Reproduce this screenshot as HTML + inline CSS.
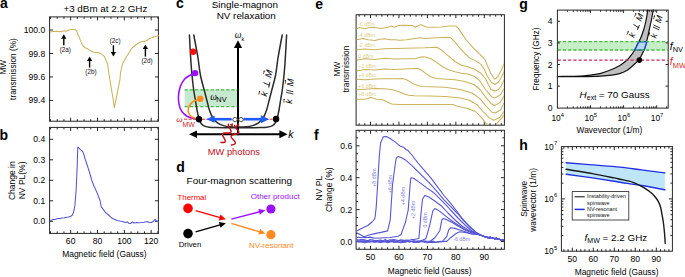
<!DOCTYPE html>
<html><head><meta charset="utf-8"><style>
html,body{margin:0;padding:0;background:#fff;}
body{width:685px;height:277px;overflow:hidden;}
svg{display:block;}
</style></head><body>
<svg width="685" height="277" viewBox="0 0 685 277">
<rect x="0" y="0" width="685" height="277" fill="#fff"/>
<text x="0" y="8" text-anchor="start" style='font-family:"Liberation Sans", sans-serif;font-size:14px;fill:#000;font-weight:bold;'>a</text>
<text x="105.4" y="12.2" text-anchor="middle" style='font-family:"Liberation Sans", sans-serif;font-size:9.85px;fill:#000;'>+3 dBm at 2.2 GHz</text>
<rect x="49.6" y="16.9" width="108.8" height="104.3" fill="none" stroke="#262626" stroke-width="1"/>
<line x1="70.65" y1="121.2" x2="70.65" y2="117.7" stroke="#262626" stroke-width="1" />
<line x1="70.65" y1="16.9" x2="70.65" y2="20.4" stroke="#262626" stroke-width="1" />
<line x1="97.5" y1="121.2" x2="97.5" y2="117.7" stroke="#262626" stroke-width="1" />
<line x1="97.5" y1="16.9" x2="97.5" y2="20.4" stroke="#262626" stroke-width="1" />
<line x1="124.35" y1="121.2" x2="124.35" y2="117.7" stroke="#262626" stroke-width="1" />
<line x1="124.35" y1="16.9" x2="124.35" y2="20.4" stroke="#262626" stroke-width="1" />
<line x1="151.2" y1="121.2" x2="151.2" y2="117.7" stroke="#262626" stroke-width="1" />
<line x1="151.2" y1="16.9" x2="151.2" y2="20.4" stroke="#262626" stroke-width="1" />
<line x1="50.51" y1="121.2" x2="50.51" y2="119.2" stroke="#262626" stroke-width="1" />
<line x1="50.51" y1="16.9" x2="50.51" y2="18.9" stroke="#262626" stroke-width="1" />
<line x1="57.23" y1="121.2" x2="57.23" y2="119.2" stroke="#262626" stroke-width="1" />
<line x1="57.23" y1="16.9" x2="57.23" y2="18.9" stroke="#262626" stroke-width="1" />
<line x1="63.94" y1="121.2" x2="63.94" y2="119.2" stroke="#262626" stroke-width="1" />
<line x1="63.94" y1="16.9" x2="63.94" y2="18.9" stroke="#262626" stroke-width="1" />
<line x1="77.36" y1="121.2" x2="77.36" y2="119.2" stroke="#262626" stroke-width="1" />
<line x1="77.36" y1="16.9" x2="77.36" y2="18.9" stroke="#262626" stroke-width="1" />
<line x1="84.08" y1="121.2" x2="84.08" y2="119.2" stroke="#262626" stroke-width="1" />
<line x1="84.08" y1="16.9" x2="84.08" y2="18.9" stroke="#262626" stroke-width="1" />
<line x1="90.79" y1="121.2" x2="90.79" y2="119.2" stroke="#262626" stroke-width="1" />
<line x1="90.79" y1="16.9" x2="90.79" y2="18.9" stroke="#262626" stroke-width="1" />
<line x1="104.21" y1="121.2" x2="104.21" y2="119.2" stroke="#262626" stroke-width="1" />
<line x1="104.21" y1="16.9" x2="104.21" y2="18.9" stroke="#262626" stroke-width="1" />
<line x1="110.93" y1="121.2" x2="110.93" y2="119.2" stroke="#262626" stroke-width="1" />
<line x1="110.93" y1="16.9" x2="110.93" y2="18.9" stroke="#262626" stroke-width="1" />
<line x1="117.64" y1="121.2" x2="117.64" y2="119.2" stroke="#262626" stroke-width="1" />
<line x1="117.64" y1="16.9" x2="117.64" y2="18.9" stroke="#262626" stroke-width="1" />
<line x1="131.06" y1="121.2" x2="131.06" y2="119.2" stroke="#262626" stroke-width="1" />
<line x1="131.06" y1="16.9" x2="131.06" y2="18.9" stroke="#262626" stroke-width="1" />
<line x1="137.78" y1="121.2" x2="137.78" y2="119.2" stroke="#262626" stroke-width="1" />
<line x1="137.78" y1="16.9" x2="137.78" y2="18.9" stroke="#262626" stroke-width="1" />
<line x1="144.49" y1="121.2" x2="144.49" y2="119.2" stroke="#262626" stroke-width="1" />
<line x1="144.49" y1="16.9" x2="144.49" y2="18.9" stroke="#262626" stroke-width="1" />
<line x1="157.91" y1="121.2" x2="157.91" y2="119.2" stroke="#262626" stroke-width="1" />
<line x1="157.91" y1="16.9" x2="157.91" y2="18.9" stroke="#262626" stroke-width="1" />
<line x1="49.6" y1="30" x2="53.1" y2="30" stroke="#262626" stroke-width="1" />
<line x1="158.4" y1="30" x2="154.9" y2="30" stroke="#262626" stroke-width="1" />
<line x1="49.6" y1="53.47" x2="53.1" y2="53.47" stroke="#262626" stroke-width="1" />
<line x1="158.4" y1="53.47" x2="154.9" y2="53.47" stroke="#262626" stroke-width="1" />
<line x1="49.6" y1="76.94" x2="53.1" y2="76.94" stroke="#262626" stroke-width="1" />
<line x1="158.4" y1="76.94" x2="154.9" y2="76.94" stroke="#262626" stroke-width="1" />
<line x1="49.6" y1="100.41" x2="53.1" y2="100.41" stroke="#262626" stroke-width="1" />
<line x1="158.4" y1="100.41" x2="154.9" y2="100.41" stroke="#262626" stroke-width="1" />
<text x="45.2" y="33.05" text-anchor="end" style='font-family:"Liberation Sans", sans-serif;font-size:8.6px;fill:#000;'>100.0</text>
<text x="45.2" y="56.52" text-anchor="end" style='font-family:"Liberation Sans", sans-serif;font-size:8.6px;fill:#000;'>99.8</text>
<text x="45.2" y="79.99" text-anchor="end" style='font-family:"Liberation Sans", sans-serif;font-size:8.6px;fill:#000;'>99.6</text>
<text x="45.2" y="103.46" text-anchor="end" style='font-family:"Liberation Sans", sans-serif;font-size:8.6px;fill:#000;'>99.4</text>
<text transform="translate(5.6,67.2) rotate(-90)" x="0" y="0" text-anchor="middle" style='font-family:"Liberation Sans", sans-serif;font-size:8.3px;fill:#000;'>MW</text>
<text transform="translate(16.2,69) rotate(-90)" x="0" y="0" text-anchor="middle" style='font-family:"Liberation Sans", sans-serif;font-size:8.3px;fill:#000;'>transmission (%)</text>
<polyline points="50.2,31.9 53,31.5 56.7,31.3 59.5,31.8 62.1,31.3 64.9,30.8 66.5,31.2 68.6,30 71.8,29.5 73.5,29.6 75.1,29.3 76.6,30.8 78.3,35.2 80.5,40.6 82.7,45.6 84.8,47.7 87,48.5 89.2,49.9 91.5,51.3 93.5,52 95.5,52.6 97.8,52.5 100,52.9 102,54.6 104.3,56.3 105.9,60 107.6,64 108.9,73.9 110.9,85.9 112.9,97.8 114.3,107.8 115.9,99.8 117.9,89.9 119.9,79.9 120.5,72.9 121.7,67 123,63 124.9,59.4 126.5,56.5 128.2,54 130.3,50.5 132.5,47.5 134.5,45.8 136.8,44.2 139,42.6 141.2,42.1 143,41.2 144.4,41.4 146.6,40.6 148.2,39.8 149.8,38.4 152,37.8 154.1,36.7 156,36.6 157.4,36 158.8,35.8" fill="none" stroke="#ccb35c" stroke-width="1.05" stroke-linejoin="round" stroke-linecap="round" />
<line x1="63.8" y1="45.2" x2="63.8" y2="38.3" stroke="#000" stroke-width="1.4" />
<polygon points="63.8,34.3 61.2,38.8 66.4,38.8" fill="#000"/>
<text x="65.3" y="51.5" text-anchor="middle" style='font-family:"Liberation Sans", sans-serif;font-size:6.3px;fill:#111;'>(2a)</text>
<line x1="89.6" y1="67.6" x2="89.6" y2="60.4" stroke="#000" stroke-width="1.4" />
<polygon points="89.6,56.4 87,60.9 92.2,60.9" fill="#000"/>
<text x="90.9" y="73.8" text-anchor="middle" style='font-family:"Liberation Sans", sans-serif;font-size:6.3px;fill:#111;'>(2b)</text>
<line x1="113.4" y1="45.3" x2="113.4" y2="52.6" stroke="#000" stroke-width="1.4" />
<polygon points="113.4,56.6 110.8,52.1 116,52.1" fill="#000"/>
<text x="115.2" y="42.6" text-anchor="middle" style='font-family:"Liberation Sans", sans-serif;font-size:6.3px;fill:#111;'>(2c)</text>
<line x1="145.4" y1="56.6" x2="145.4" y2="48.4" stroke="#000" stroke-width="1.4" />
<polygon points="145.4,44.4 142.8,48.9 148,48.9" fill="#000"/>
<text x="147" y="62.9" text-anchor="middle" style='font-family:"Liberation Sans", sans-serif;font-size:6.3px;fill:#111;'>(2d)</text>
<text x="-0.5" y="139.8" text-anchor="start" style='font-family:"Liberation Sans", sans-serif;font-size:14px;fill:#000;font-weight:bold;'>b</text>
<rect x="49.6" y="127.4" width="108.8" height="106" fill="none" stroke="#262626" stroke-width="1"/>
<line x1="70.65" y1="233.4" x2="70.65" y2="229.9" stroke="#262626" stroke-width="1" />
<line x1="70.65" y1="127.4" x2="70.65" y2="130.9" stroke="#262626" stroke-width="1" />
<line x1="97.5" y1="233.4" x2="97.5" y2="229.9" stroke="#262626" stroke-width="1" />
<line x1="97.5" y1="127.4" x2="97.5" y2="130.9" stroke="#262626" stroke-width="1" />
<line x1="124.35" y1="233.4" x2="124.35" y2="229.9" stroke="#262626" stroke-width="1" />
<line x1="124.35" y1="127.4" x2="124.35" y2="130.9" stroke="#262626" stroke-width="1" />
<line x1="151.2" y1="233.4" x2="151.2" y2="229.9" stroke="#262626" stroke-width="1" />
<line x1="151.2" y1="127.4" x2="151.2" y2="130.9" stroke="#262626" stroke-width="1" />
<line x1="50.51" y1="233.4" x2="50.51" y2="231.4" stroke="#262626" stroke-width="1" />
<line x1="50.51" y1="127.4" x2="50.51" y2="129.4" stroke="#262626" stroke-width="1" />
<line x1="57.23" y1="233.4" x2="57.23" y2="231.4" stroke="#262626" stroke-width="1" />
<line x1="57.23" y1="127.4" x2="57.23" y2="129.4" stroke="#262626" stroke-width="1" />
<line x1="63.94" y1="233.4" x2="63.94" y2="231.4" stroke="#262626" stroke-width="1" />
<line x1="63.94" y1="127.4" x2="63.94" y2="129.4" stroke="#262626" stroke-width="1" />
<line x1="77.36" y1="233.4" x2="77.36" y2="231.4" stroke="#262626" stroke-width="1" />
<line x1="77.36" y1="127.4" x2="77.36" y2="129.4" stroke="#262626" stroke-width="1" />
<line x1="84.08" y1="233.4" x2="84.08" y2="231.4" stroke="#262626" stroke-width="1" />
<line x1="84.08" y1="127.4" x2="84.08" y2="129.4" stroke="#262626" stroke-width="1" />
<line x1="90.79" y1="233.4" x2="90.79" y2="231.4" stroke="#262626" stroke-width="1" />
<line x1="90.79" y1="127.4" x2="90.79" y2="129.4" stroke="#262626" stroke-width="1" />
<line x1="104.21" y1="233.4" x2="104.21" y2="231.4" stroke="#262626" stroke-width="1" />
<line x1="104.21" y1="127.4" x2="104.21" y2="129.4" stroke="#262626" stroke-width="1" />
<line x1="110.93" y1="233.4" x2="110.93" y2="231.4" stroke="#262626" stroke-width="1" />
<line x1="110.93" y1="127.4" x2="110.93" y2="129.4" stroke="#262626" stroke-width="1" />
<line x1="117.64" y1="233.4" x2="117.64" y2="231.4" stroke="#262626" stroke-width="1" />
<line x1="117.64" y1="127.4" x2="117.64" y2="129.4" stroke="#262626" stroke-width="1" />
<line x1="131.06" y1="233.4" x2="131.06" y2="231.4" stroke="#262626" stroke-width="1" />
<line x1="131.06" y1="127.4" x2="131.06" y2="129.4" stroke="#262626" stroke-width="1" />
<line x1="137.78" y1="233.4" x2="137.78" y2="231.4" stroke="#262626" stroke-width="1" />
<line x1="137.78" y1="127.4" x2="137.78" y2="129.4" stroke="#262626" stroke-width="1" />
<line x1="144.49" y1="233.4" x2="144.49" y2="231.4" stroke="#262626" stroke-width="1" />
<line x1="144.49" y1="127.4" x2="144.49" y2="129.4" stroke="#262626" stroke-width="1" />
<line x1="157.91" y1="233.4" x2="157.91" y2="231.4" stroke="#262626" stroke-width="1" />
<line x1="157.91" y1="127.4" x2="157.91" y2="129.4" stroke="#262626" stroke-width="1" />
<line x1="49.6" y1="221.3" x2="53.1" y2="221.3" stroke="#262626" stroke-width="1" />
<line x1="158.4" y1="221.3" x2="154.9" y2="221.3" stroke="#262626" stroke-width="1" />
<line x1="49.6" y1="200.8" x2="53.1" y2="200.8" stroke="#262626" stroke-width="1" />
<line x1="158.4" y1="200.8" x2="154.9" y2="200.8" stroke="#262626" stroke-width="1" />
<line x1="49.6" y1="180.3" x2="53.1" y2="180.3" stroke="#262626" stroke-width="1" />
<line x1="158.4" y1="180.3" x2="154.9" y2="180.3" stroke="#262626" stroke-width="1" />
<line x1="49.6" y1="159.8" x2="53.1" y2="159.8" stroke="#262626" stroke-width="1" />
<line x1="158.4" y1="159.8" x2="154.9" y2="159.8" stroke="#262626" stroke-width="1" />
<line x1="49.6" y1="139.3" x2="53.1" y2="139.3" stroke="#262626" stroke-width="1" />
<line x1="158.4" y1="139.3" x2="154.9" y2="139.3" stroke="#262626" stroke-width="1" />
<text x="45.2" y="224.35" text-anchor="end" style='font-family:"Liberation Sans", sans-serif;font-size:8.6px;fill:#000;'>0.0</text>
<text x="45.2" y="203.85" text-anchor="end" style='font-family:"Liberation Sans", sans-serif;font-size:8.6px;fill:#000;'>0.1</text>
<text x="45.2" y="183.35" text-anchor="end" style='font-family:"Liberation Sans", sans-serif;font-size:8.6px;fill:#000;'>0.2</text>
<text x="45.2" y="162.85" text-anchor="end" style='font-family:"Liberation Sans", sans-serif;font-size:8.6px;fill:#000;'>0.3</text>
<text x="45.2" y="142.35" text-anchor="end" style='font-family:"Liberation Sans", sans-serif;font-size:8.6px;fill:#000;'>0.4</text>
<text x="70.65" y="244.2" text-anchor="middle" style='font-family:"Liberation Sans", sans-serif;font-size:8.6px;fill:#000;'>60</text>
<text x="97.5" y="244.2" text-anchor="middle" style='font-family:"Liberation Sans", sans-serif;font-size:8.6px;fill:#000;'>80</text>
<text x="124.35" y="244.2" text-anchor="middle" style='font-family:"Liberation Sans", sans-serif;font-size:8.6px;fill:#000;'>100</text>
<text x="151.2" y="244.2" text-anchor="middle" style='font-family:"Liberation Sans", sans-serif;font-size:8.6px;fill:#000;'>120</text>
<text x="104.4" y="256.8" text-anchor="middle" style='font-family:"Liberation Sans", sans-serif;font-size:8.45px;fill:#000;'>Magnetic field (Gauss)</text>
<text transform="translate(14.6,180.7) rotate(-90)" x="0" y="0" text-anchor="middle" style='font-family:"Liberation Sans", sans-serif;font-size:8.5px;fill:#000;'>Change in</text>
<text transform="translate(24.6,180.4) rotate(-90)" x="0" y="0" text-anchor="middle" style='font-family:"Liberation Sans", sans-serif;font-size:8.5px;fill:#000;'>NV PL(%)</text>
<polyline points="50.6,220.4 53,219.6 55,219.4 57.7,218.5 60,218.6 62,217.9 64.2,217.8 66.5,217.3 68.5,216.9 70.7,216.2 72.2,215.2 73.3,213 74.2,209.5 74.9,204.9 75.6,197 76.2,188.7 76.8,175 77.2,166 77.5,155 77.8,147.1 79,148 80.4,149.7 82.7,151.4 84,155 85.3,159.5 87,164.5 88.5,169.2 90,174 91.8,180.5 94,186 96.7,191.9 98.5,196.5 100,200.5 101.4,207.2 103.6,209.9 105.5,212.5 107.2,213.9 109,215.5 110.8,217.1 112.5,218.5 114.5,219.3 117,220.5 119.9,221.1 122.5,221.5 125.3,222.5 127.5,222 129,223.4 130.7,223.4 132.5,222 134,223 136.2,222.5 139,222.7 141.6,222.5 144,222.2 147,221.6 149,222.4 151.5,222.5 153.5,221.2 155.1,219.3 156.5,221 158.5,221.6" fill="none" stroke="#5656d4" stroke-width="1.05" stroke-linejoin="round" stroke-linecap="round" />
<text x="176" y="8" text-anchor="start" style='font-family:"Liberation Sans", sans-serif;font-size:14px;fill:#000;font-weight:bold;'>c</text>
<text x="211.8" y="7.9" text-anchor="start" style='font-family:"Liberation Sans", sans-serif;font-size:9.85px;fill:#000;'>Single-magnon</text>
<text x="216.7" y="19.3" text-anchor="start" style='font-family:"Liberation Sans", sans-serif;font-size:9.85px;fill:#000;'>NV relaxation</text>
<rect x="184.6" y="89.8" width="52.6" height="16.9" fill="#c6ead0"/>
<line x1="184.6" y1="89.8" x2="237.2" y2="89.8" stroke="#3dbf3d" stroke-width="1.3" stroke-dasharray="3.2,2"/>
<line x1="184.6" y1="106.7" x2="237.2" y2="106.7" stroke="#3dbf3d" stroke-width="1.3" stroke-dasharray="3.2,2"/>
<path d="M189.4,35 C189.63,39.17 190.37,53.33 190.8,60 C191.23,66.67 191.52,70 192,75 C192.48,80 193.13,85.83 193.7,90 C194.27,94.17 194.85,96.67 195.4,100 C195.95,103.33 196.4,106.83 197,110 C197.6,113.17 198.33,116.78 199,119 C199.67,121.22 200.17,122.15 201,123.3 C201.83,124.45 202.67,125.25 204,125.9 C205.33,126.55 207,126.92 209,127.2 C211,127.48 213.17,127.52 216,127.6 C218.83,127.68 222.33,127.68 226,127.7 C229.67,127.72 234,127.7 238,127.7 C242,127.7 246.33,127.72 250,127.7 C253.67,127.68 257.17,127.68 260,127.6 C262.83,127.52 265,127.48 267,127.2 C269,126.92 270.67,126.55 272,125.9 C273.33,125.25 274.17,124.45 275,123.3 C275.83,122.15 276.33,121.22 277,119 C277.67,116.78 278.4,113.17 279,110 C279.6,106.83 280.05,103.33 280.6,100 C281.15,96.67 281.73,94.17 282.3,90 C282.87,85.83 283.52,80 284,75 C284.48,70 284.77,66.67 285.2,60 C285.63,53.33 286.37,39.17 286.6,35" fill="none" stroke="#2b2b2b" stroke-width="1.5" stroke-linejoin="round" stroke-linecap="round" />
<path d="M193.8,35 C194.5,38.83 196.9,51.33 198,58 C199.1,64.67 199.28,69.33 200.4,75 C201.52,80.67 203.55,87.5 204.7,92 C205.85,96.5 206.52,99 207.3,102 C208.08,105 208.52,107.42 209.4,110 C210.28,112.58 211.25,115.37 212.6,117.5 C213.95,119.63 215.68,121.45 217.5,122.8 C219.32,124.15 221.42,124.93 223.5,125.6 C225.58,126.27 227.58,126.55 230,126.8 C232.42,127.05 235.33,127.1 238,127.1 C240.67,127.1 243.58,127.05 246,126.8 C248.42,126.55 250.42,126.27 252.5,125.6 C254.58,124.93 256.68,124.15 258.5,122.8 C260.32,121.45 262.05,119.63 263.4,117.5 C264.75,115.37 265.72,112.58 266.6,110 C267.48,107.42 267.92,105 268.7,102 C269.48,99 270.15,96.5 271.3,92 C272.45,87.5 274.48,80.67 275.6,75 C276.72,69.33 276.9,64.67 278,58 C279.1,51.33 281.5,38.83 282.2,35" fill="none" stroke="#2b2b2b" stroke-width="1.5" stroke-linejoin="round" stroke-linecap="round" />
<path d="M195.1,73.1 C194.25,73.47 191.77,74.28 190,75.3 C188.23,76.32 186.12,77.33 184.5,79.2 C182.88,81.07 181.32,83.45 180.3,86.5 C179.28,89.55 178.43,93.87 178.4,97.5 C178.37,101.13 179.08,105.48 180.1,108.3 C181.12,111.12 182.77,112.82 184.5,114.4 C186.23,115.98 188.42,117.03 190.5,117.8 C192.58,118.57 195.92,118.8 197,119" fill="none" stroke="#9b10ff" stroke-width="1.6" stroke-linejoin="round" stroke-linecap="round" />
<path d="M200.3,98.8 C199.2,99.18 195.52,99.97 193.7,101.1 C191.88,102.23 190.32,103.87 189.4,105.6 C188.48,107.33 187.93,109.72 188.2,111.5 C188.47,113.28 189.7,115.12 191,116.3 C192.3,117.48 195.17,118.22 196,118.6" fill="none" stroke="#ff8a1e" stroke-width="1.6" stroke-linejoin="round" stroke-linecap="round" />
<line x1="184" y1="119.2" x2="276" y2="119.2" stroke="#d42020" stroke-width="0.9" stroke-dasharray="3.2,1.3"/>
<line x1="231.5" y1="119.2" x2="213.5" y2="119.2" stroke="#1f5bff" stroke-width="2.6" />
<polygon points="206.3,119.2 214.6,115.6 214.6,122.8" fill="#1f5bff"/>
<line x1="243.6" y1="119.2" x2="261.5" y2="119.2" stroke="#1f5bff" stroke-width="2.6" />
<polygon points="269.2,119.2 260.8,115.2 260.8,123.2" fill="#1f5bff"/>
<circle cx="193.1" cy="51.7" r="3.2" fill="#ff0d0d" stroke="none" stroke-width="0"/>
<circle cx="195.1" cy="73.1" r="3.2" fill="#9b10ff" stroke="none" stroke-width="0"/>
<circle cx="200.3" cy="98.7" r="3.2" fill="#ff8a1e" stroke="none" stroke-width="0"/>
<circle cx="199" cy="119.2" r="3.2" fill="#000" stroke="none" stroke-width="0"/>
<circle cx="276.1" cy="119" r="3.2" fill="#000" stroke="none" stroke-width="0"/>
<line x1="238" y1="135.2" x2="238" y2="46" stroke="#000" stroke-width="2" />
<polygon points="238,40.2 233.9,48 242.1,48" fill="#000"/>
<line x1="195.5" y1="134.2" x2="280" y2="134.2" stroke="#000" stroke-width="2" />
<polygon points="189.0,134.2 197.0,130.4 197.0,138.0" fill="#000"/>
<polygon points="287.6,134.2 279.4,130.2 279.4,138.2" fill="#000"/>
<circle cx="235" cy="119.6" r="2.2" fill="#fff" stroke="#444" stroke-width="0.9"/>
<circle cx="241" cy="119.6" r="2.2" fill="#fff" stroke="#444" stroke-width="0.9"/>
<polyline points="221,142.5 221.65,142.52 222.29,142.52 222.89,142.51 223.45,142.47 223.95,142.39 224.38,142.27 224.73,142.1 224.99,141.88 225.17,141.61 225.26,141.28 225.26,140.9 225.18,140.47 225.03,139.99 224.82,139.48 224.56,138.94 224.27,138.38 223.96,137.81 223.65,137.24 223.35,136.67 223.08,136.13 222.85,135.61 222.68,135.12 222.59,134.68 222.56,134.28 222.63,133.94 222.78,133.65 223.02,133.41 223.34,133.23 223.75,133.1 224.23,133.01 224.77,132.96 225.36,132.94 225.99,132.94 226.64,132.95 227.3,132.97 227.94,132.98 228.55,132.97 229.12,132.94 229.64,132.87 230.09,132.77 230.46,132.61 230.75,132.41 230.95,132.15 231.07,131.83 231.09,131.47 231.04,131.05 230.91,130.59 230.72,130.09 230.47,129.56 230.18,129 229.88,128.43 229.56,127.86 229.26,127.29 228.98,126.74 228.74,126.21 228.55,125.71 228.43,125.26 228.39,124.85 228.43,124.49 228.55,124.18" fill="none" stroke="#c80c14" stroke-width="1.4" stroke-linejoin="round" stroke-linecap="round" />
<polygon points="232.87,123.07 232.82,126.79 229.58,124.81" fill="#c80c14"/>
<polyline points="231.5,145 232.14,144.86 232.76,144.72 233.34,144.57 233.88,144.4 234.35,144.2 234.74,143.99 235.04,143.74 235.24,143.46 235.35,143.15 235.36,142.81 235.28,142.44 235.1,142.04 234.85,141.61 234.53,141.16 234.15,140.69 233.74,140.21 233.31,139.73 232.87,139.24 232.45,138.76 232.06,138.29 231.72,137.83 231.45,137.4 231.25,136.99 231.14,136.61 231.12,136.26 231.2,135.94 231.38,135.65 231.65,135.4 232.02,135.17 232.47,134.97 232.98,134.79 233.55,134.64 234.17,134.49 234.8,134.35 235.44,134.22 236.07,134.08 236.67,133.93 237.22,133.76 237.71,133.58 238.12,133.37 238.45,133.13 238.68,132.86 238.82,132.56 238.86,132.23 238.8,131.86 238.65,131.47 238.42,131.05 238.11,130.61 237.75,130.14 237.35,129.67 236.92,129.18 236.48,128.69 236.05,128.21 235.65,127.73 235.3,127.27 235,126.83 234.78,126.42 234.65,126.03 234.6,125.67 234.65,125.34" fill="none" stroke="#c80c14" stroke-width="1.4" stroke-linejoin="round" stroke-linecap="round" />
<polygon points="238.59,123.26 239.41,126.89 235.79,125.71" fill="#c80c14"/>
<text x="207.8" y="154.9" text-anchor="start" style='font-family:"Liberation Sans", sans-serif;font-size:9.3px;fill:#c4101c;'>MW photons</text>
<text x="238.2" y="38" text-anchor="middle" style='font-family:"Liberation Serif", serif;font-size:9.5px;fill:#000;font-style:italic;'>&#969;</text>
<text x="241.4" y="40.8" text-anchor="start" style='font-family:"Liberation Sans", sans-serif;font-size:5.5px;fill:#000;'>k</text>
<text x="210.2" y="100.2" text-anchor="start" style='font-family:"Liberation Serif", serif;font-size:9.5px;fill:#000;font-style:italic;'>&#969;</text>
<text x="216.3" y="102.3" text-anchor="start" style='font-family:"Liberation Sans", sans-serif;font-size:7.4px;fill:#000;'>NV</text>
<text x="176.2" y="121.6" text-anchor="start" style='font-family:"Liberation Serif", serif;font-size:9px;fill:#c81a28;font-style:italic;'>&#969;</text>
<text x="182.6" y="127.2" text-anchor="start" style='font-family:"Liberation Sans", sans-serif;font-size:6.9px;fill:#c81a28;'>MW</text>
<text x="288.2" y="138.3" text-anchor="start" style='font-family:"Liberation Sans", sans-serif;font-size:10.5px;fill:#000;font-style:italic;'>k</text>
<g transform="translate(266.3,83.9) rotate(-77)">
<text x="-10.5" y="3.31" text-anchor="middle" style='font-family:"Liberation Sans", sans-serif;font-size:9.2px;font-style:italic;fill:#000;'>k</text>
<text x="10.5" y="3.31" text-anchor="middle" style='font-family:"Liberation Sans", sans-serif;font-size:9.2px;font-style:italic;fill:#000;'>M</text>
<path d="M0.63,-2.94 L-0.63,3.31 M-3.06,3.11 L2.46,3.11" stroke="#000" stroke-width="0.8" fill="none"/>
<path d="M-12.1,-4.94 L-8.9,-4.94" stroke="#000" stroke-width="0.6" fill="none"/>
<polygon points="-8.1,-4.94 -9.4,-5.84 -9.4,-4.04" fill="#000"/>
<path d="M8.9,-4.94 L12.1,-4.94" stroke="#000" stroke-width="0.6" fill="none"/>
<polygon points="12.9,-4.94 11.6,-5.84 11.6,-4.04" fill="#000"/>
</g>
<g transform="translate(289.6,92) rotate(-86)">
<text x="-9.5" y="3.31" text-anchor="middle" style='font-family:"Liberation Sans", sans-serif;font-size:9.2px;font-style:italic;fill:#000;'>k</text>
<text x="9.5" y="3.31" text-anchor="middle" style='font-family:"Liberation Sans", sans-serif;font-size:9.2px;font-style:italic;fill:#000;'>M</text>
<path d="M-0.48,-3.44 L-1.73,3.81" stroke="#000" stroke-width="0.75" fill="none"/>
<path d="M1.73,-3.44 L0.48,3.81" stroke="#000" stroke-width="0.75" fill="none"/>
<path d="M-11.1,-4.94 L-7.9,-4.94" stroke="#000" stroke-width="0.6" fill="none"/>
<polygon points="-7.1,-4.94 -8.4,-5.84 -8.4,-4.04" fill="#000"/>
<path d="M7.9,-4.94 L11.1,-4.94" stroke="#000" stroke-width="0.6" fill="none"/>
<polygon points="11.9,-4.94 10.6,-5.84 10.6,-4.04" fill="#000"/>
</g>
<text x="176.3" y="172.1" text-anchor="start" style='font-family:"Liberation Sans", sans-serif;font-size:14px;fill:#000;font-weight:bold;'>d</text>
<text x="186.6" y="184.2" text-anchor="start" style='font-family:"Liberation Sans", sans-serif;font-size:9.95px;fill:#000;'>Four-magnon scattering</text>
<text x="177.6" y="199.6" text-anchor="start" style='font-family:"Liberation Sans", sans-serif;font-size:7.8px;fill:#ff0000;'>Thermal</text>
<text x="250.7" y="199.4" text-anchor="start" style='font-family:"Liberation Sans", sans-serif;font-size:8px;fill:#9b10ff;'>Other product</text>
<text x="178.7" y="246.7" text-anchor="start" style='font-family:"Liberation Sans", sans-serif;font-size:7.8px;fill:#000;'>Driven</text>
<text x="249" y="247.6" text-anchor="start" style='font-family:"Liberation Sans", sans-serif;font-size:8px;fill:#ff8a1e;'>NV-resonant</text>
<circle cx="188" cy="208.4" r="4.8" fill="#ff0000" stroke="none" stroke-width="0"/>
<circle cx="188" cy="233.6" r="4.8" fill="#000" stroke="none" stroke-width="0"/>
<circle cx="270.9" cy="209" r="4.6" fill="#9b10ff" stroke="none" stroke-width="0"/>
<circle cx="270.9" cy="234.7" r="4.6" fill="#ff8a1e" stroke="none" stroke-width="0"/>
<line x1="195.6" y1="210.6" x2="220.13" y2="217.64" stroke="#ff0000" stroke-width="1.4" />
<polygon points="225.9,219.3 218.82,220.39 220.48,214.62" fill="#ff0000"/>
<line x1="195.6" y1="231.8" x2="220.13" y2="224.84" stroke="#000" stroke-width="1.4" />
<polygon points="225.9,223.2 220.47,227.86 218.83,222.09" fill="#000"/>
<line x1="231.3" y1="219.1" x2="259.59" y2="211.72" stroke="#9b10ff" stroke-width="1.4" />
<polygon points="265.4,210.2 259.87,214.74 258.35,208.94" fill="#9b10ff"/>
<line x1="231.3" y1="223.4" x2="259.65" y2="231.8" stroke="#ff8a1e" stroke-width="1.4" />
<polygon points="265.4,233.5 258.32,234.53 260.02,228.78" fill="#ff8a1e"/>
<text x="315.2" y="9.4" text-anchor="start" style='font-family:"Liberation Sans", sans-serif;font-size:14px;fill:#000;font-weight:bold;'>e</text>
<rect x="356.1" y="14.7" width="148.3" height="110.5" fill="none" stroke="#262626" stroke-width="1"/>
<line x1="370.5" y1="125.2" x2="370.5" y2="121.7" stroke="#262626" stroke-width="1" />
<line x1="370.5" y1="14.7" x2="370.5" y2="18.2" stroke="#262626" stroke-width="1" />
<line x1="398.95" y1="125.2" x2="398.95" y2="121.7" stroke="#262626" stroke-width="1" />
<line x1="398.95" y1="14.7" x2="398.95" y2="18.2" stroke="#262626" stroke-width="1" />
<line x1="427.4" y1="125.2" x2="427.4" y2="121.7" stroke="#262626" stroke-width="1" />
<line x1="427.4" y1="14.7" x2="427.4" y2="18.2" stroke="#262626" stroke-width="1" />
<line x1="455.85" y1="125.2" x2="455.85" y2="121.7" stroke="#262626" stroke-width="1" />
<line x1="455.85" y1="14.7" x2="455.85" y2="18.2" stroke="#262626" stroke-width="1" />
<line x1="484.3" y1="125.2" x2="484.3" y2="121.7" stroke="#262626" stroke-width="1" />
<line x1="484.3" y1="14.7" x2="484.3" y2="18.2" stroke="#262626" stroke-width="1" />
<line x1="359.12" y1="125.2" x2="359.12" y2="123.2" stroke="#262626" stroke-width="1" />
<line x1="359.12" y1="14.7" x2="359.12" y2="16.7" stroke="#262626" stroke-width="1" />
<line x1="364.81" y1="125.2" x2="364.81" y2="123.2" stroke="#262626" stroke-width="1" />
<line x1="364.81" y1="14.7" x2="364.81" y2="16.7" stroke="#262626" stroke-width="1" />
<line x1="376.19" y1="125.2" x2="376.19" y2="123.2" stroke="#262626" stroke-width="1" />
<line x1="376.19" y1="14.7" x2="376.19" y2="16.7" stroke="#262626" stroke-width="1" />
<line x1="381.88" y1="125.2" x2="381.88" y2="123.2" stroke="#262626" stroke-width="1" />
<line x1="381.88" y1="14.7" x2="381.88" y2="16.7" stroke="#262626" stroke-width="1" />
<line x1="387.57" y1="125.2" x2="387.57" y2="123.2" stroke="#262626" stroke-width="1" />
<line x1="387.57" y1="14.7" x2="387.57" y2="16.7" stroke="#262626" stroke-width="1" />
<line x1="393.26" y1="125.2" x2="393.26" y2="123.2" stroke="#262626" stroke-width="1" />
<line x1="393.26" y1="14.7" x2="393.26" y2="16.7" stroke="#262626" stroke-width="1" />
<line x1="404.64" y1="125.2" x2="404.64" y2="123.2" stroke="#262626" stroke-width="1" />
<line x1="404.64" y1="14.7" x2="404.64" y2="16.7" stroke="#262626" stroke-width="1" />
<line x1="410.33" y1="125.2" x2="410.33" y2="123.2" stroke="#262626" stroke-width="1" />
<line x1="410.33" y1="14.7" x2="410.33" y2="16.7" stroke="#262626" stroke-width="1" />
<line x1="416.02" y1="125.2" x2="416.02" y2="123.2" stroke="#262626" stroke-width="1" />
<line x1="416.02" y1="14.7" x2="416.02" y2="16.7" stroke="#262626" stroke-width="1" />
<line x1="421.71" y1="125.2" x2="421.71" y2="123.2" stroke="#262626" stroke-width="1" />
<line x1="421.71" y1="14.7" x2="421.71" y2="16.7" stroke="#262626" stroke-width="1" />
<line x1="433.09" y1="125.2" x2="433.09" y2="123.2" stroke="#262626" stroke-width="1" />
<line x1="433.09" y1="14.7" x2="433.09" y2="16.7" stroke="#262626" stroke-width="1" />
<line x1="438.78" y1="125.2" x2="438.78" y2="123.2" stroke="#262626" stroke-width="1" />
<line x1="438.78" y1="14.7" x2="438.78" y2="16.7" stroke="#262626" stroke-width="1" />
<line x1="444.47" y1="125.2" x2="444.47" y2="123.2" stroke="#262626" stroke-width="1" />
<line x1="444.47" y1="14.7" x2="444.47" y2="16.7" stroke="#262626" stroke-width="1" />
<line x1="450.16" y1="125.2" x2="450.16" y2="123.2" stroke="#262626" stroke-width="1" />
<line x1="450.16" y1="14.7" x2="450.16" y2="16.7" stroke="#262626" stroke-width="1" />
<line x1="461.54" y1="125.2" x2="461.54" y2="123.2" stroke="#262626" stroke-width="1" />
<line x1="461.54" y1="14.7" x2="461.54" y2="16.7" stroke="#262626" stroke-width="1" />
<line x1="467.23" y1="125.2" x2="467.23" y2="123.2" stroke="#262626" stroke-width="1" />
<line x1="467.23" y1="14.7" x2="467.23" y2="16.7" stroke="#262626" stroke-width="1" />
<line x1="472.92" y1="125.2" x2="472.92" y2="123.2" stroke="#262626" stroke-width="1" />
<line x1="472.92" y1="14.7" x2="472.92" y2="16.7" stroke="#262626" stroke-width="1" />
<line x1="478.61" y1="125.2" x2="478.61" y2="123.2" stroke="#262626" stroke-width="1" />
<line x1="478.61" y1="14.7" x2="478.61" y2="16.7" stroke="#262626" stroke-width="1" />
<line x1="489.99" y1="125.2" x2="489.99" y2="123.2" stroke="#262626" stroke-width="1" />
<line x1="489.99" y1="14.7" x2="489.99" y2="16.7" stroke="#262626" stroke-width="1" />
<line x1="495.68" y1="125.2" x2="495.68" y2="123.2" stroke="#262626" stroke-width="1" />
<line x1="495.68" y1="14.7" x2="495.68" y2="16.7" stroke="#262626" stroke-width="1" />
<line x1="501.37" y1="125.2" x2="501.37" y2="123.2" stroke="#262626" stroke-width="1" />
<line x1="501.37" y1="14.7" x2="501.37" y2="16.7" stroke="#262626" stroke-width="1" />
<text transform="translate(339.6,69) rotate(-90)" x="0" y="0" text-anchor="middle" style='font-family:"Liberation Sans", sans-serif;font-size:8.3px;fill:#000;'>MW</text>
<text transform="translate(348.7,69) rotate(-90)" x="0" y="0" text-anchor="middle" style='font-family:"Liberation Sans", sans-serif;font-size:8.3px;fill:#000;'>transmission</text>
<defs><clipPath id="ce"><rect x="356.6" y="15.2" width="147.3" height="109.5"/></clipPath></defs>
<g clip-path="url(#ce)">
<polyline points="356.6,28.7 359.8,27.5 364.5,28.7 369.2,27.5 373.9,27.3 380.9,28.5 387.9,27.3 391.4,26.1 394.3,27.3 398.4,25.4 403,25.2 412.4,25.4 415.3,27.3 420.6,24.6 426.4,26.9 432.9,27.3 440.9,26.9 448.8,25.9 455.8,25.9 458.7,28.9 462.7,34.9 466.4,40 471.2,45.7 476.1,50.6 481,55.4 485,59.5 487.5,66 490.7,73.3 494.8,79.2 498,76.5 501.3,70 503.9,64" fill="none" stroke="#ccb35c" stroke-width="1.05" stroke-linejoin="round" stroke-linecap="round" />
<polyline points="356.6,39.8 362.9,38.4 368,39.8 374.8,40.4 380,39.3 384.8,38.8 390,39.8 394.7,39.8 400,40.2 406.6,39.8 414.5,38.4 420,37.8 425,38.4 436.9,37.8 448.8,37.2 450.8,37.8 454.8,41.8 458.7,46.8 464.7,53.2 469.6,57.9 476.1,61.1 481,64.4 484.2,69.2 487.5,76.5 491.5,82.5 495,84.5 498.5,82 501.5,77 503.9,72" fill="none" stroke="#ccb35c" stroke-width="1.05" stroke-linejoin="round" stroke-linecap="round" />
<polyline points="356.6,49.7 364.9,49.1 374.8,49.7 384.8,48.7 404.6,48.3 425,47.8 436.9,47.2 440.9,49.7 446.8,54.7 455,61.5 461.5,65.2 468,66.8 474.5,69.2 481,73.3 485.8,79 488.5,85 491,89.5 495.2,91.1 498.5,89.5 501.2,86 503.9,80" fill="none" stroke="#ccb35c" stroke-width="1.05" stroke-linejoin="round" stroke-linecap="round" />
<polyline points="356.6,60.2 364.9,58.7 374.8,59.6 384.8,58.3 394.7,59 404.6,58.7 414.5,58.7 422.5,56.7 425,57.1 431,58.7 436.9,62.6 442.9,67 448,69.5 455,71.7 461.5,73.3 468,74.1 474.5,76.5 479.4,80.3 482.5,85 485.5,89.5 488.5,93.2 492.1,97.1 495.2,97.9 500.5,94.8 503.9,88.8" fill="none" stroke="#ccb35c" stroke-width="1.05" stroke-linejoin="round" stroke-linecap="round" />
<polyline points="356.6,70.9 364.9,69.5 374.8,69.9 384.8,69.1 394.7,69.5 404.6,68.9 417.5,68.3 420.5,69.5 426.4,73.9 430,76.5 436,78.5 455,79.8 464.7,81.4 473.9,84.5 480,89.5 486.1,97.9 490.6,103.2 494.4,105.5 499.7,102.9 503.9,96.4" fill="none" stroke="#ccb35c" stroke-width="1.05" stroke-linejoin="round" stroke-linecap="round" />
<polyline points="356.6,79.2 364.9,79.8 374.8,79 384.8,78.8 394.7,78.8 402.6,78.5 406.6,79.8 412.5,83.4 418.5,85.8 422.5,86.4 430,86.8 445.2,87.3 460.3,89.5 472.4,93.3 480,98.6 486.1,106.2 492.1,112.3 495.2,113 500.5,110 503.9,103.2" fill="none" stroke="#ccb35c" stroke-width="1.05" stroke-linejoin="round" stroke-linecap="round" />
<polyline points="356.6,89.8 364.9,89.2 374.8,88.4 384.8,88.8 392.7,89.8 398.7,91.7 404.6,94.1 408.6,95.3 414.5,95.7 430,95.9 445.2,96.4 460.3,97.9 469.4,100.2 477,104.7 483,111.5 489.1,117.6 493.6,120.2 499.7,117.6 503.9,111.5" fill="none" stroke="#ccb35c" stroke-width="1.05" stroke-linejoin="round" stroke-linecap="round" />
<polyline points="356.6,99.3 364.9,99.3 367.9,98.7 370.5,97.3 372.9,98.1 376.8,99.3 382.8,99.7 386.7,101.7 391.7,104 398.7,104.6 430,104.4 452.7,104.4 457.3,106.2 467.9,108.5 475.5,111.5 481.5,117.6 486.1,123.6 488,124.4" fill="none" stroke="#ccb35c" stroke-width="1.05" stroke-linejoin="round" stroke-linecap="round" />
<polyline points="496.7,123.6 502,117.6 503.9,115" fill="none" stroke="#ccb35c" stroke-width="1.05" stroke-linejoin="round" stroke-linecap="round" />
</g>
<text x="358.1" y="26.2" text-anchor="start" style='font-family:"Liberation Sans", sans-serif;font-size:5.25px;fill:#e0cf88;'>-6 dBm</text>
<text x="358.1" y="36.8" text-anchor="start" style='font-family:"Liberation Sans", sans-serif;font-size:5.25px;fill:#e0cf88;'>-4 dBm</text>
<text x="358.1" y="47.2" text-anchor="start" style='font-family:"Liberation Sans", sans-serif;font-size:5.25px;fill:#e0cf88;'>-2 dBm</text>
<text x="358.1" y="57.8" text-anchor="start" style='font-family:"Liberation Sans", sans-serif;font-size:5.25px;fill:#e0cf88;'>0 dBm</text>
<text x="358.1" y="67.9" text-anchor="start" style='font-family:"Liberation Sans", sans-serif;font-size:5.25px;fill:#e0cf88;'>+2 dBm</text>
<text x="358.1" y="76.8" text-anchor="start" style='font-family:"Liberation Sans", sans-serif;font-size:5.25px;fill:#e0cf88;'>+4 dBm</text>
<text x="358.1" y="87.7" text-anchor="start" style='font-family:"Liberation Sans", sans-serif;font-size:5.25px;fill:#e0cf88;'>+6 dBm</text>
<text x="358.1" y="96" text-anchor="start" style='font-family:"Liberation Sans", sans-serif;font-size:5.25px;fill:#e0cf88;'>+8 dBm</text>
<text x="314" y="139.9" text-anchor="start" style='font-family:"Liberation Sans", sans-serif;font-size:14px;fill:#000;font-weight:bold;'>f</text>
<rect x="356.1" y="130.3" width="148.3" height="119" fill="none" stroke="#262626" stroke-width="1"/>
<line x1="370.5" y1="249.3" x2="370.5" y2="245.8" stroke="#262626" stroke-width="1" />
<line x1="370.5" y1="130.3" x2="370.5" y2="133.8" stroke="#262626" stroke-width="1" />
<line x1="398.95" y1="249.3" x2="398.95" y2="245.8" stroke="#262626" stroke-width="1" />
<line x1="398.95" y1="130.3" x2="398.95" y2="133.8" stroke="#262626" stroke-width="1" />
<line x1="427.4" y1="249.3" x2="427.4" y2="245.8" stroke="#262626" stroke-width="1" />
<line x1="427.4" y1="130.3" x2="427.4" y2="133.8" stroke="#262626" stroke-width="1" />
<line x1="455.85" y1="249.3" x2="455.85" y2="245.8" stroke="#262626" stroke-width="1" />
<line x1="455.85" y1="130.3" x2="455.85" y2="133.8" stroke="#262626" stroke-width="1" />
<line x1="484.3" y1="249.3" x2="484.3" y2="245.8" stroke="#262626" stroke-width="1" />
<line x1="484.3" y1="130.3" x2="484.3" y2="133.8" stroke="#262626" stroke-width="1" />
<line x1="359.12" y1="249.3" x2="359.12" y2="247.3" stroke="#262626" stroke-width="1" />
<line x1="359.12" y1="130.3" x2="359.12" y2="132.3" stroke="#262626" stroke-width="1" />
<line x1="364.81" y1="249.3" x2="364.81" y2="247.3" stroke="#262626" stroke-width="1" />
<line x1="364.81" y1="130.3" x2="364.81" y2="132.3" stroke="#262626" stroke-width="1" />
<line x1="376.19" y1="249.3" x2="376.19" y2="247.3" stroke="#262626" stroke-width="1" />
<line x1="376.19" y1="130.3" x2="376.19" y2="132.3" stroke="#262626" stroke-width="1" />
<line x1="381.88" y1="249.3" x2="381.88" y2="247.3" stroke="#262626" stroke-width="1" />
<line x1="381.88" y1="130.3" x2="381.88" y2="132.3" stroke="#262626" stroke-width="1" />
<line x1="387.57" y1="249.3" x2="387.57" y2="247.3" stroke="#262626" stroke-width="1" />
<line x1="387.57" y1="130.3" x2="387.57" y2="132.3" stroke="#262626" stroke-width="1" />
<line x1="393.26" y1="249.3" x2="393.26" y2="247.3" stroke="#262626" stroke-width="1" />
<line x1="393.26" y1="130.3" x2="393.26" y2="132.3" stroke="#262626" stroke-width="1" />
<line x1="404.64" y1="249.3" x2="404.64" y2="247.3" stroke="#262626" stroke-width="1" />
<line x1="404.64" y1="130.3" x2="404.64" y2="132.3" stroke="#262626" stroke-width="1" />
<line x1="410.33" y1="249.3" x2="410.33" y2="247.3" stroke="#262626" stroke-width="1" />
<line x1="410.33" y1="130.3" x2="410.33" y2="132.3" stroke="#262626" stroke-width="1" />
<line x1="416.02" y1="249.3" x2="416.02" y2="247.3" stroke="#262626" stroke-width="1" />
<line x1="416.02" y1="130.3" x2="416.02" y2="132.3" stroke="#262626" stroke-width="1" />
<line x1="421.71" y1="249.3" x2="421.71" y2="247.3" stroke="#262626" stroke-width="1" />
<line x1="421.71" y1="130.3" x2="421.71" y2="132.3" stroke="#262626" stroke-width="1" />
<line x1="433.09" y1="249.3" x2="433.09" y2="247.3" stroke="#262626" stroke-width="1" />
<line x1="433.09" y1="130.3" x2="433.09" y2="132.3" stroke="#262626" stroke-width="1" />
<line x1="438.78" y1="249.3" x2="438.78" y2="247.3" stroke="#262626" stroke-width="1" />
<line x1="438.78" y1="130.3" x2="438.78" y2="132.3" stroke="#262626" stroke-width="1" />
<line x1="444.47" y1="249.3" x2="444.47" y2="247.3" stroke="#262626" stroke-width="1" />
<line x1="444.47" y1="130.3" x2="444.47" y2="132.3" stroke="#262626" stroke-width="1" />
<line x1="450.16" y1="249.3" x2="450.16" y2="247.3" stroke="#262626" stroke-width="1" />
<line x1="450.16" y1="130.3" x2="450.16" y2="132.3" stroke="#262626" stroke-width="1" />
<line x1="461.54" y1="249.3" x2="461.54" y2="247.3" stroke="#262626" stroke-width="1" />
<line x1="461.54" y1="130.3" x2="461.54" y2="132.3" stroke="#262626" stroke-width="1" />
<line x1="467.23" y1="249.3" x2="467.23" y2="247.3" stroke="#262626" stroke-width="1" />
<line x1="467.23" y1="130.3" x2="467.23" y2="132.3" stroke="#262626" stroke-width="1" />
<line x1="472.92" y1="249.3" x2="472.92" y2="247.3" stroke="#262626" stroke-width="1" />
<line x1="472.92" y1="130.3" x2="472.92" y2="132.3" stroke="#262626" stroke-width="1" />
<line x1="478.61" y1="249.3" x2="478.61" y2="247.3" stroke="#262626" stroke-width="1" />
<line x1="478.61" y1="130.3" x2="478.61" y2="132.3" stroke="#262626" stroke-width="1" />
<line x1="489.99" y1="249.3" x2="489.99" y2="247.3" stroke="#262626" stroke-width="1" />
<line x1="489.99" y1="130.3" x2="489.99" y2="132.3" stroke="#262626" stroke-width="1" />
<line x1="495.68" y1="249.3" x2="495.68" y2="247.3" stroke="#262626" stroke-width="1" />
<line x1="495.68" y1="130.3" x2="495.68" y2="132.3" stroke="#262626" stroke-width="1" />
<line x1="501.37" y1="249.3" x2="501.37" y2="247.3" stroke="#262626" stroke-width="1" />
<line x1="501.37" y1="130.3" x2="501.37" y2="132.3" stroke="#262626" stroke-width="1" />
<line x1="356.1" y1="241.5" x2="359.6" y2="241.5" stroke="#262626" stroke-width="1" />
<line x1="504.4" y1="241.5" x2="500.9" y2="241.5" stroke="#262626" stroke-width="1" />
<line x1="356.1" y1="209.6" x2="359.6" y2="209.6" stroke="#262626" stroke-width="1" />
<line x1="504.4" y1="209.6" x2="500.9" y2="209.6" stroke="#262626" stroke-width="1" />
<line x1="356.1" y1="177.7" x2="359.6" y2="177.7" stroke="#262626" stroke-width="1" />
<line x1="504.4" y1="177.7" x2="500.9" y2="177.7" stroke="#262626" stroke-width="1" />
<line x1="356.1" y1="145.8" x2="359.6" y2="145.8" stroke="#262626" stroke-width="1" />
<line x1="504.4" y1="145.8" x2="500.9" y2="145.8" stroke="#262626" stroke-width="1" />
<line x1="356.1" y1="233.53" x2="358.1" y2="233.53" stroke="#262626" stroke-width="1" />
<line x1="504.4" y1="233.53" x2="502.4" y2="233.53" stroke="#262626" stroke-width="1" />
<line x1="356.1" y1="225.55" x2="358.1" y2="225.55" stroke="#262626" stroke-width="1" />
<line x1="504.4" y1="225.55" x2="502.4" y2="225.55" stroke="#262626" stroke-width="1" />
<line x1="356.1" y1="217.57" x2="358.1" y2="217.57" stroke="#262626" stroke-width="1" />
<line x1="504.4" y1="217.57" x2="502.4" y2="217.57" stroke="#262626" stroke-width="1" />
<line x1="356.1" y1="201.62" x2="358.1" y2="201.62" stroke="#262626" stroke-width="1" />
<line x1="504.4" y1="201.62" x2="502.4" y2="201.62" stroke="#262626" stroke-width="1" />
<line x1="356.1" y1="193.65" x2="358.1" y2="193.65" stroke="#262626" stroke-width="1" />
<line x1="504.4" y1="193.65" x2="502.4" y2="193.65" stroke="#262626" stroke-width="1" />
<line x1="356.1" y1="185.68" x2="358.1" y2="185.68" stroke="#262626" stroke-width="1" />
<line x1="504.4" y1="185.68" x2="502.4" y2="185.68" stroke="#262626" stroke-width="1" />
<line x1="356.1" y1="169.72" x2="358.1" y2="169.72" stroke="#262626" stroke-width="1" />
<line x1="504.4" y1="169.72" x2="502.4" y2="169.72" stroke="#262626" stroke-width="1" />
<line x1="356.1" y1="161.75" x2="358.1" y2="161.75" stroke="#262626" stroke-width="1" />
<line x1="504.4" y1="161.75" x2="502.4" y2="161.75" stroke="#262626" stroke-width="1" />
<line x1="356.1" y1="153.77" x2="358.1" y2="153.77" stroke="#262626" stroke-width="1" />
<line x1="504.4" y1="153.77" x2="502.4" y2="153.77" stroke="#262626" stroke-width="1" />
<line x1="356.1" y1="137.82" x2="358.1" y2="137.82" stroke="#262626" stroke-width="1" />
<line x1="504.4" y1="137.82" x2="502.4" y2="137.82" stroke="#262626" stroke-width="1" />
<text x="352.2" y="244.55" text-anchor="end" style='font-family:"Liberation Sans", sans-serif;font-size:8.6px;fill:#000;'>0.0</text>
<text x="352.2" y="212.65" text-anchor="end" style='font-family:"Liberation Sans", sans-serif;font-size:8.6px;fill:#000;'>0.2</text>
<text x="352.2" y="180.75" text-anchor="end" style='font-family:"Liberation Sans", sans-serif;font-size:8.6px;fill:#000;'>0.4</text>
<text x="352.2" y="148.85" text-anchor="end" style='font-family:"Liberation Sans", sans-serif;font-size:8.6px;fill:#000;'>0.6</text>
<text x="370.5" y="260" text-anchor="middle" style='font-family:"Liberation Sans", sans-serif;font-size:8.6px;fill:#000;'>50</text>
<text x="398.95" y="260" text-anchor="middle" style='font-family:"Liberation Sans", sans-serif;font-size:8.6px;fill:#000;'>60</text>
<text x="427.4" y="260" text-anchor="middle" style='font-family:"Liberation Sans", sans-serif;font-size:8.6px;fill:#000;'>70</text>
<text x="455.85" y="260" text-anchor="middle" style='font-family:"Liberation Sans", sans-serif;font-size:8.6px;fill:#000;'>80</text>
<text x="484.3" y="260" text-anchor="middle" style='font-family:"Liberation Sans", sans-serif;font-size:8.6px;fill:#000;'>90</text>
<text x="429.7" y="273.9" text-anchor="middle" style='font-family:"Liberation Sans", sans-serif;font-size:8.4px;fill:#000;'>Magnetic field (Gauss)</text>
<text transform="translate(321.5,188.1) rotate(-90)" x="0" y="0" text-anchor="middle" style='font-family:"Liberation Sans", sans-serif;font-size:8.5px;fill:#000;'>NV PL</text>
<text transform="translate(331.7,189.7) rotate(-90)" x="0" y="0" text-anchor="middle" style='font-family:"Liberation Sans", sans-serif;font-size:8.4px;fill:#000;'>Change (%)</text>
<defs><clipPath id="cf"><rect x="356.6" y="130.8" width="147.3" height="118"/></clipPath></defs>
<g clip-path="url(#cf)">
<polyline points="356.6,231 362,228.2 367.7,225.5 372,222 374.9,218.5 376.1,208.4 377.3,190 379.3,156 380.6,143 383.2,136.9 386.4,136.5 389.7,138.2 395.1,141.9 398.3,144.7 400.5,146.2 403.7,147.3 406,149.5 408.1,150.6 411.5,154.5 418,163 424.5,170.6 431,178.2 437.5,186.8 444,195.5 450.5,203.1 455.9,210 462,218 468,225 476,232.5 481,235.2 485,236.8 488,237.6 491,237.4 494,238.6 497,238.4 500,239.6 503.8,239.9" fill="none" stroke="#5656d4" stroke-width="1.1" stroke-linejoin="round" stroke-linecap="round" />
<polyline points="356.6,232.7 360,234.5 364.1,236.7 369,235 375,233.6 381,232.4 387.6,230.9 390.2,220.2 392.5,185 395.1,165 396.2,158.2 398.3,156.4 401.6,157.7 405,159.7 411.5,165.2 418,171.7 424.5,178.2 431,184.7 437.5,192.2 444,199.8 450.5,206.3 457,213 463,220 470,227 476,232.3 481,235.2 485,236.8 488,237.6 491,237.4 494,238.6 497,238.4 500,239.6 503.8,239.9" fill="none" stroke="#5656d4" stroke-width="1.1" stroke-linejoin="round" stroke-linecap="round" />
<polyline points="356.6,237.42 358.8,237.25 361,237.75 363.2,237.17 365.4,237.64 367.6,237.47 369.8,237.16 372,237.61 375,238.3 390,237.5 398,236.2 401.1,234.5 402.5,230.4 405.4,222.5 408.2,210 410.1,185 410.9,177.7 413.7,178.2 418,181.4 421.2,183.6 426.7,187.9 433.2,192.2 439.7,198.7 446.2,205.2 450.5,210 458,218 465,225 472,231 476,233 481,235.2 485,236.8 488,237.6 491,237.4 494,238.6 497,238.4 500,239.6 503.8,239.9" fill="none" stroke="#5656d4" stroke-width="1.1" stroke-linejoin="round" stroke-linecap="round" />
<polyline points="356.6,239.55 358.8,240.11 361,239.6 363.2,239.63 365.4,240.09 367.6,240.66 369.8,239.67 372,239.81 374.2,240.38 376.4,240.83 378.6,240.31 380.8,240.06 383,240.87 385.2,239.57 387.4,240.7 389.6,239.91 391.8,239.7 394,239.66 396.2,239.93 398.4,240.64 400.6,239.75 402.8,240.31 405,240.39 407.2,240.02 409.4,240.27 411.6,239.59 413.8,239.58 418.9,238.5 420.9,214.9 422.5,199 424.9,195.4 428.8,197 434.8,201 441.8,206.3 448,213 455,220 462,226 470,231 476,233.4 481,235.2 485,236.8 488,237.6 491,237.4 494,238.6 497,238.4 500,239.6 503.8,239.9" fill="none" stroke="#5656d4" stroke-width="1.1" stroke-linejoin="round" stroke-linecap="round" />
<polyline points="356.6,240.59 358.8,241.25 361,240.9 363.2,240.74 365.4,241.12 367.6,240.93 369.8,240.72 372,241.41 374.2,241.28 376.4,240.64 378.6,241.1 380.8,241.04 383,241.53 385.2,241.32 387.4,240.7 389.6,241.67 391.8,240.47 394,240.89 396.2,241.36 398.4,240.51 400.6,240.98 402.8,240.35 405,241.24 407.2,241.37 409.4,241.1 411.6,241.53 413.8,240.74 416,241.27 418.2,241.13 420.4,241.11 425.9,238.7 429.8,224.8 432.8,210.9 434.8,208.5 437.8,209.9 441.8,212.9 446.7,216.9 452,221 458,225 465,229.5 472,232 476,233.6 481,235.2 485,236.8 488,237.6 491,237.4 494,238.6 497,238.4 500,239.6 503.8,239.9" fill="none" stroke="#5656d4" stroke-width="1.1" stroke-linejoin="round" stroke-linecap="round" />
<polyline points="356.6,241.34 358.8,241.88 361,242.02 363.2,241.36 365.4,241.63 367.6,240.78 369.8,241.68 372,241.61 374.2,242.09 376.4,241.85 378.6,241.1 380.8,241.24 383,241.64 385.2,240.73 387.4,241.35 389.6,240.94 391.8,240.86 394,240.78 396.2,241.78 398.4,240.88 400.6,241.05 402.8,241.25 405,241.92 407.2,240.81 409.4,241.33 411.6,241.47 413.8,241.94 416,241.85 418.2,241.91 420.4,241.09 422.6,241.28 424.8,241.2 427,241.94 429.2,242.04 434.8,237.7 439.8,230.8 441.8,219.8 443.7,218.4 446.7,219.8 452.7,222.8 458,226 465,230 472,233 476,233.8 481,235.2 485,236.8 488,237.6 491,237.4 494,238.6 497,238.4 500,239.6 503.8,239.9" fill="none" stroke="#5656d4" stroke-width="1.1" stroke-linejoin="round" stroke-linecap="round" />
<polyline points="356.6,241.31 358.8,241.35 361,241.42 363.2,241.43 365.4,241.78 367.6,241.92 369.8,241.47 372,241.11 374.2,241.69 376.4,241.62 378.6,241.89 380.8,242.43 383,242.07 385.2,241.82 387.4,241.96 389.6,242.05 391.8,241.18 394,242.36 396.2,242.19 398.4,242.32 400.6,242.22 402.8,241.65 405,241.66 407.2,241.24 409.4,241.99 411.6,241.19 413.8,241.19 416,241.39 418.2,241.33 420.4,241.58 422.6,241.17 424.8,241.1 427,241.31 429.2,241.24 431.4,241.61 433.6,241.14 435.8,242.32 438,241.96 440.2,241.31 442.4,241.45 446.7,236.7 448.7,229.8 450.7,227.8 454.7,228.4 460,230 466,232 472,234 476,234 481,235.2 485,236.8 488,237.6 491,237.4 494,238.6 497,238.4 500,239.6 503.8,239.9" fill="none" stroke="#5656d4" stroke-width="1.1" stroke-linejoin="round" stroke-linecap="round" />
<polyline points="356.6,241.79 358.8,241.81 361,241.47 363.2,242.49 365.4,242.69 367.6,241.95 369.8,241.98 372,241.42 374.2,241.44 376.4,241.78 378.6,241.67 380.8,242.46 383,241.53 385.2,241.33 387.4,242.63 389.6,242.04 391.8,241.51 394,242.06 396.2,241.34 398.4,242.04 400.6,242.67 402.8,242.51 405,242.27 407.2,241.67 409.4,241.81 411.6,241.53 413.8,242.38 416,242.05 418.2,242.39 420.4,241.76 422.6,241.61 424.8,242.44 427,242.68 429.2,242.49 431.4,242.43 433.6,242.45 435.8,242.34 438,241.62 440.2,242.02 442.4,241.8 444.6,241.34 446.8,241.34 450.7,237.7 455.7,233.7 459.6,231.8 465,232.5 472,234 476,234.2 481,235.2 485,236.8 488,237.6 491,237.4 494,238.6 497,238.4 500,239.6 503.8,239.9" fill="none" stroke="#5656d4" stroke-width="1.1" stroke-linejoin="round" stroke-linecap="round" />
</g>
<text transform="translate(375.7,177.6) rotate(-90)" x="0" y="0" text-anchor="middle" style='font-family:"Liberation Sans", sans-serif;font-size:5.25px;fill:#7f80e0;'>+8 dBm</text>
<text transform="translate(392.2,184) rotate(-90)" x="0" y="0" text-anchor="middle" style='font-family:"Liberation Sans", sans-serif;font-size:5.25px;fill:#7f80e0;'>+6 dBm</text>
<text transform="translate(404.8,196) rotate(-90)" x="0" y="0" text-anchor="middle" style='font-family:"Liberation Sans", sans-serif;font-size:5.25px;fill:#7f80e0;'>+4 dBm</text>
<text transform="translate(415.4,209.9) rotate(-90)" x="0" y="0" text-anchor="middle" style='font-family:"Liberation Sans", sans-serif;font-size:5.25px;fill:#7f80e0;'>+2 dBm</text>
<text transform="translate(426.8,220) rotate(-90)" x="0" y="0" text-anchor="middle" style='font-family:"Liberation Sans", sans-serif;font-size:5.25px;fill:#7f80e0;'>0 dBm</text>
<text x="453.2" y="241.2" text-anchor="start" style='font-family:"Liberation Sans", sans-serif;font-size:5.25px;fill:#7f80e0;'>-6 dBm</text>
<text x="519.2" y="9" text-anchor="start" style='font-family:"Liberation Sans", sans-serif;font-size:14px;fill:#000;font-weight:bold;'>g</text>
<rect x="557.7" y="41.7" width="110" height="8.3" fill="#c7efc7"/>
<path d="M557.4,76.5 C561.17,76.45 574.57,76.43 580,76.2 C585.43,75.97 586.53,75.58 590,75.1 C593.47,74.62 597.2,74.23 600.8,73.3 C604.4,72.37 608.35,70.85 611.6,69.5 C614.85,68.15 617.77,66.73 620.3,65.2 C622.83,63.67 625,61.93 626.8,60.3 C628.6,58.67 629.82,57.07 631.1,55.4 C632.38,53.73 633.25,52.5 634.5,50.3 C635.75,48.1 637.52,44.37 638.6,42.2 C639.68,40.03 640.17,39.33 641,37.3 C641.83,35.27 642.78,32.72 643.6,30 C644.42,27.28 645.2,24.32 645.9,21 C646.6,17.68 647.48,11.92 647.8,10.1 L653.2,10.1 C652.9,11.75 652.07,16.68 651.4,20 C650.73,23.32 649.98,26.43 649.2,30 C648.42,33.57 647.53,38.15 646.7,41.4 C645.87,44.65 645.1,47.1 644.2,49.5 C643.3,51.9 642.23,54.02 641.3,55.8 C640.37,57.58 639.57,58.97 638.6,60.2 C637.63,61.43 636.57,62.2 635.5,63.2 C634.43,64.2 633.65,64.97 632.2,66.2 C630.75,67.43 628.78,69.42 626.8,70.6 C624.82,71.78 622.83,72.55 620.3,73.3 C617.77,74.05 614.85,74.63 611.6,75.1 C608.35,75.57 606.07,75.85 600.8,76.1 C595.53,76.35 587.23,76.5 580,76.6 C572.77,76.7 561.17,76.68 557.4,76.7 L557.4,76.5 Z" fill="#c0c0c0" stroke="none"/>
<path d="M557.4,76.5 C561.17,76.45 574.57,76.43 580,76.2 C585.43,75.97 586.53,75.58 590,75.1 C593.47,74.62 597.2,74.23 600.8,73.3 C604.4,72.37 608.35,70.85 611.6,69.5 C614.85,68.15 617.77,66.73 620.3,65.2 C622.83,63.67 625,61.93 626.8,60.3 C628.6,58.67 629.82,57.07 631.1,55.4 C632.38,53.73 633.25,52.5 634.5,50.3 C635.75,48.1 637.52,44.37 638.6,42.2 C639.68,40.03 640.17,39.33 641,37.3 C641.83,35.27 642.78,32.72 643.6,30 C644.42,27.28 645.2,24.32 645.9,21 C646.6,17.68 647.48,11.92 647.8,10.1" fill="none" stroke="#111" stroke-width="1.2" stroke-linejoin="round" stroke-linecap="round" />
<path d="M653.2,10.1 C652.9,11.75 652.07,16.68 651.4,20 C650.73,23.32 649.98,26.43 649.2,30 C648.42,33.57 647.53,38.15 646.7,41.4 C645.87,44.65 645.1,47.1 644.2,49.5 C643.3,51.9 642.23,54.02 641.3,55.8 C640.37,57.58 639.57,58.97 638.6,60.2 C637.63,61.43 636.57,62.2 635.5,63.2 C634.43,64.2 633.65,64.97 632.2,66.2 C630.75,67.43 628.78,69.42 626.8,70.6 C624.82,71.78 622.83,72.55 620.3,73.3 C617.77,74.05 614.85,74.63 611.6,75.1 C608.35,75.57 606.07,75.85 600.8,76.1 C595.53,76.35 587.23,76.5 580,76.6 C572.77,76.7 561.17,76.68 557.4,76.7" fill="none" stroke="#111" stroke-width="1.2" stroke-linejoin="round" stroke-linecap="round" />
<polygon points="638.9,41.7 647.0,41.7 644.2,50.0 634.8,50.0" fill="#b5daf6" stroke="#1f3fe0" stroke-width="1.4"/>
<line x1="557.7" y1="41.7" x2="667.5" y2="41.7" stroke="#3fc23f" stroke-width="1.3" stroke-dasharray="3.2,2"/>
<line x1="557.7" y1="50" x2="667.5" y2="50" stroke="#3fc23f" stroke-width="1.3" stroke-dasharray="3.2,2"/>
<line x1="557.7" y1="60.1" x2="667.5" y2="60.1" stroke="#c8285e" stroke-width="1.2" stroke-dasharray="3.2,2"/>
<circle cx="639.4" cy="60.1" r="2.8" fill="#000" stroke="none" stroke-width="0"/>
<rect x="557.4" y="10.1" width="110.8" height="98" fill="none" stroke="#262626" stroke-width="1"/>
<line x1="590.5" y1="108.1" x2="590.5" y2="105.3" stroke="#262626" stroke-width="1" />
<line x1="590.5" y1="10.1" x2="590.5" y2="12.9" stroke="#262626" stroke-width="1" />
<line x1="623.6" y1="108.1" x2="623.6" y2="105.3" stroke="#262626" stroke-width="1" />
<line x1="623.6" y1="10.1" x2="623.6" y2="12.9" stroke="#262626" stroke-width="1" />
<line x1="656.7" y1="108.1" x2="656.7" y2="105.3" stroke="#262626" stroke-width="1" />
<line x1="656.7" y1="10.1" x2="656.7" y2="12.9" stroke="#262626" stroke-width="1" />
<line x1="567.36" y1="108.1" x2="567.36" y2="106.4" stroke="#262626" stroke-width="1" />
<line x1="567.36" y1="10.1" x2="567.36" y2="11.8" stroke="#262626" stroke-width="1" />
<line x1="573.19" y1="108.1" x2="573.19" y2="106.4" stroke="#262626" stroke-width="1" />
<line x1="573.19" y1="10.1" x2="573.19" y2="11.8" stroke="#262626" stroke-width="1" />
<line x1="577.33" y1="108.1" x2="577.33" y2="106.4" stroke="#262626" stroke-width="1" />
<line x1="577.33" y1="10.1" x2="577.33" y2="11.8" stroke="#262626" stroke-width="1" />
<line x1="580.54" y1="108.1" x2="580.54" y2="106.4" stroke="#262626" stroke-width="1" />
<line x1="580.54" y1="10.1" x2="580.54" y2="11.8" stroke="#262626" stroke-width="1" />
<line x1="583.16" y1="108.1" x2="583.16" y2="106.4" stroke="#262626" stroke-width="1" />
<line x1="583.16" y1="10.1" x2="583.16" y2="11.8" stroke="#262626" stroke-width="1" />
<line x1="585.37" y1="108.1" x2="585.37" y2="106.4" stroke="#262626" stroke-width="1" />
<line x1="585.37" y1="10.1" x2="585.37" y2="11.8" stroke="#262626" stroke-width="1" />
<line x1="587.29" y1="108.1" x2="587.29" y2="106.4" stroke="#262626" stroke-width="1" />
<line x1="587.29" y1="10.1" x2="587.29" y2="11.8" stroke="#262626" stroke-width="1" />
<line x1="588.99" y1="108.1" x2="588.99" y2="106.4" stroke="#262626" stroke-width="1" />
<line x1="588.99" y1="10.1" x2="588.99" y2="11.8" stroke="#262626" stroke-width="1" />
<line x1="600.46" y1="108.1" x2="600.46" y2="106.4" stroke="#262626" stroke-width="1" />
<line x1="600.46" y1="10.1" x2="600.46" y2="11.8" stroke="#262626" stroke-width="1" />
<line x1="606.29" y1="108.1" x2="606.29" y2="106.4" stroke="#262626" stroke-width="1" />
<line x1="606.29" y1="10.1" x2="606.29" y2="11.8" stroke="#262626" stroke-width="1" />
<line x1="610.43" y1="108.1" x2="610.43" y2="106.4" stroke="#262626" stroke-width="1" />
<line x1="610.43" y1="10.1" x2="610.43" y2="11.8" stroke="#262626" stroke-width="1" />
<line x1="613.64" y1="108.1" x2="613.64" y2="106.4" stroke="#262626" stroke-width="1" />
<line x1="613.64" y1="10.1" x2="613.64" y2="11.8" stroke="#262626" stroke-width="1" />
<line x1="616.26" y1="108.1" x2="616.26" y2="106.4" stroke="#262626" stroke-width="1" />
<line x1="616.26" y1="10.1" x2="616.26" y2="11.8" stroke="#262626" stroke-width="1" />
<line x1="618.47" y1="108.1" x2="618.47" y2="106.4" stroke="#262626" stroke-width="1" />
<line x1="618.47" y1="10.1" x2="618.47" y2="11.8" stroke="#262626" stroke-width="1" />
<line x1="620.39" y1="108.1" x2="620.39" y2="106.4" stroke="#262626" stroke-width="1" />
<line x1="620.39" y1="10.1" x2="620.39" y2="11.8" stroke="#262626" stroke-width="1" />
<line x1="622.09" y1="108.1" x2="622.09" y2="106.4" stroke="#262626" stroke-width="1" />
<line x1="622.09" y1="10.1" x2="622.09" y2="11.8" stroke="#262626" stroke-width="1" />
<line x1="633.56" y1="108.1" x2="633.56" y2="106.4" stroke="#262626" stroke-width="1" />
<line x1="633.56" y1="10.1" x2="633.56" y2="11.8" stroke="#262626" stroke-width="1" />
<line x1="639.39" y1="108.1" x2="639.39" y2="106.4" stroke="#262626" stroke-width="1" />
<line x1="639.39" y1="10.1" x2="639.39" y2="11.8" stroke="#262626" stroke-width="1" />
<line x1="643.53" y1="108.1" x2="643.53" y2="106.4" stroke="#262626" stroke-width="1" />
<line x1="643.53" y1="10.1" x2="643.53" y2="11.8" stroke="#262626" stroke-width="1" />
<line x1="646.74" y1="108.1" x2="646.74" y2="106.4" stroke="#262626" stroke-width="1" />
<line x1="646.74" y1="10.1" x2="646.74" y2="11.8" stroke="#262626" stroke-width="1" />
<line x1="649.36" y1="108.1" x2="649.36" y2="106.4" stroke="#262626" stroke-width="1" />
<line x1="649.36" y1="10.1" x2="649.36" y2="11.8" stroke="#262626" stroke-width="1" />
<line x1="651.57" y1="108.1" x2="651.57" y2="106.4" stroke="#262626" stroke-width="1" />
<line x1="651.57" y1="10.1" x2="651.57" y2="11.8" stroke="#262626" stroke-width="1" />
<line x1="653.49" y1="108.1" x2="653.49" y2="106.4" stroke="#262626" stroke-width="1" />
<line x1="653.49" y1="10.1" x2="653.49" y2="11.8" stroke="#262626" stroke-width="1" />
<line x1="655.19" y1="108.1" x2="655.19" y2="106.4" stroke="#262626" stroke-width="1" />
<line x1="655.19" y1="10.1" x2="655.19" y2="11.8" stroke="#262626" stroke-width="1" />
<line x1="666.66" y1="108.1" x2="666.66" y2="106.4" stroke="#262626" stroke-width="1" />
<line x1="666.66" y1="10.1" x2="666.66" y2="11.8" stroke="#262626" stroke-width="1" />
<line x1="557.4" y1="86.1" x2="560" y2="86.1" stroke="#262626" stroke-width="1" />
<line x1="668.2" y1="86.1" x2="665.6" y2="86.1" stroke="#262626" stroke-width="1" />
<line x1="557.4" y1="64.5" x2="560" y2="64.5" stroke="#262626" stroke-width="1" />
<line x1="668.2" y1="64.5" x2="665.6" y2="64.5" stroke="#262626" stroke-width="1" />
<line x1="557.4" y1="42.9" x2="560" y2="42.9" stroke="#262626" stroke-width="1" />
<line x1="668.2" y1="42.9" x2="665.6" y2="42.9" stroke="#262626" stroke-width="1" />
<line x1="557.4" y1="21.3" x2="560" y2="21.3" stroke="#262626" stroke-width="1" />
<line x1="668.2" y1="21.3" x2="665.6" y2="21.3" stroke="#262626" stroke-width="1" />
<text x="552.6" y="110.75" text-anchor="end" style='font-family:"Liberation Sans", sans-serif;font-size:8.6px;fill:#000;'>0</text>
<text x="552.6" y="89.15" text-anchor="end" style='font-family:"Liberation Sans", sans-serif;font-size:8.6px;fill:#000;'>1</text>
<text x="552.6" y="67.55" text-anchor="end" style='font-family:"Liberation Sans", sans-serif;font-size:8.6px;fill:#000;'>2</text>
<text x="552.6" y="45.95" text-anchor="end" style='font-family:"Liberation Sans", sans-serif;font-size:8.6px;fill:#000;'>3</text>
<text x="552.6" y="24.35" text-anchor="end" style='font-family:"Liberation Sans", sans-serif;font-size:8.6px;fill:#000;'>4</text>
<text x="557.7" y="120.7" text-anchor="middle" style='font-family:"Liberation Sans", sans-serif;font-size:8.4px;fill:#000;'>10<tspan dy="-4.2" style="font-size:5.8px">4</tspan></text>
<text x="590.8" y="120.7" text-anchor="middle" style='font-family:"Liberation Sans", sans-serif;font-size:8.4px;fill:#000;'>10<tspan dy="-4.2" style="font-size:5.8px">5</tspan></text>
<text x="623.9" y="120.7" text-anchor="middle" style='font-family:"Liberation Sans", sans-serif;font-size:8.4px;fill:#000;'>10<tspan dy="-4.2" style="font-size:5.8px">6</tspan></text>
<text x="657" y="120.7" text-anchor="middle" style='font-family:"Liberation Sans", sans-serif;font-size:8.4px;fill:#000;'>10<tspan dy="-4.2" style="font-size:5.8px">7</tspan></text>
<text x="609.5" y="133.3" text-anchor="middle" style='font-family:"Liberation Sans", sans-serif;font-size:8.4px;fill:#000;'>Wavevector (1/m)</text>
<text transform="translate(538.9,59) rotate(-90)" x="0" y="0" text-anchor="middle" style='font-family:"Liberation Sans", sans-serif;font-size:8.2px;fill:#000;'>Frequency (GHz)</text>
<text x="579.6" y="97.7" style='font-family:"Liberation Sans", sans-serif;font-size:9.9px;fill:#000;'><tspan font-style="italic">H</tspan><tspan dy="2.4" style="font-size:7px">ext</tspan><tspan dy="-2.4"> = 70 Gauss</tspan></text>
<text x="669.8" y="49.6" style='font-family:"Liberation Sans", sans-serif;font-size:10.5px;fill:#000;'><tspan font-style="italic">f</tspan><tspan dy="2.6" style="font-size:7.4px">NV</tspan></text>
<text x="669.8" y="65.0" style='font-family:"Liberation Sans", sans-serif;font-size:10.5px;fill:#d81e1e;'><tspan font-style="italic">f</tspan><tspan dy="2.6" style="font-size:7.4px">MW</tspan></text>
<g transform="translate(635.8,26) rotate(-67)">
<text x="-9.75" y="3.17" text-anchor="middle" style='font-family:"Liberation Sans", sans-serif;font-size:8.8px;font-style:italic;fill:#000;'>k</text>
<text x="9.75" y="3.17" text-anchor="middle" style='font-family:"Liberation Sans", sans-serif;font-size:8.8px;font-style:italic;fill:#000;'>M</text>
<path d="M0.6,-2.82 L-0.6,3.17 M-2.94,2.97 L2.34,2.97" stroke="#000" stroke-width="0.8" fill="none"/>
<path d="M-11.35,-4.82 L-8.15,-4.82" stroke="#000" stroke-width="0.6" fill="none"/>
<polygon points="-7.35,-4.82 -8.65,-5.72 -8.65,-3.92" fill="#000"/>
<path d="M8.15,-4.82 L11.35,-4.82" stroke="#000" stroke-width="0.6" fill="none"/>
<polygon points="12.15,-4.82 10.85,-5.72 10.85,-3.92" fill="#000"/>
</g>
<g transform="translate(656.2,27.4) rotate(-74)">
<text x="-8.75" y="3.17" text-anchor="middle" style='font-family:"Liberation Sans", sans-serif;font-size:8.8px;font-style:italic;fill:#000;'>k</text>
<text x="8.75" y="3.17" text-anchor="middle" style='font-family:"Liberation Sans", sans-serif;font-size:8.8px;font-style:italic;fill:#000;'>M</text>
<path d="M-0.46,-3.32 L-1.65,3.67" stroke="#000" stroke-width="0.75" fill="none"/>
<path d="M1.65,-3.32 L0.46,3.67" stroke="#000" stroke-width="0.75" fill="none"/>
<path d="M-10.35,-4.82 L-7.15,-4.82" stroke="#000" stroke-width="0.6" fill="none"/>
<polygon points="-6.35,-4.82 -7.65,-5.72 -7.65,-3.92" fill="#000"/>
<path d="M7.15,-4.82 L10.35,-4.82" stroke="#000" stroke-width="0.6" fill="none"/>
<polygon points="11.15,-4.82 9.85,-5.72 9.85,-3.92" fill="#000"/>
</g>
<text x="519.3" y="149.6" text-anchor="start" style='font-family:"Liberation Sans", sans-serif;font-size:14px;fill:#000;font-weight:bold;'>h</text>
<defs><clipPath id="ch"><rect x="561.9" y="147.1" width="110" height="103.6"/></clipPath></defs>
<path d="M566.1,162.8 C570.5,163.15 583.52,164.18 592.5,164.9 C601.48,165.62 611.8,166.27 620,167.1 C628.2,167.93 634.22,168.93 641.7,169.9 C649.18,170.87 661.03,172.4 664.9,172.9 L664.9,189.8 L641.7,185.5 L620,182.3 L614.2,181.2 L592.5,177.9 L566.1,174.2  Z" fill="#bfe6f8"/>
<path d="M566.1,162.8 C570.5,163.15 583.52,164.18 592.5,164.9 C601.48,165.62 611.8,166.27 620,167.1 C628.2,167.93 634.22,168.93 641.7,169.9 C649.18,170.87 661.03,172.4 664.9,172.9" fill="none" stroke="#2030e0" stroke-width="1.4" stroke-linejoin="round" stroke-linecap="round" />
<path d="M566.1,174.2 C570.5,174.82 584.48,176.73 592.5,177.9 C600.52,179.07 609.62,180.47 614.2,181.2 C618.78,181.93 615.42,181.58 620,182.3 C624.58,183.02 634.22,184.25 641.7,185.5 C649.18,186.75 661.03,189.08 664.9,189.8" fill="none" stroke="#2030e0" stroke-width="1.4" stroke-linejoin="round" stroke-linecap="round" />
<g clip-path="url(#ch)">
<path d="M566.1,169.3 C570.5,170.02 584.48,172.17 592.5,173.6 C600.52,175.03 609.62,176.97 614.2,177.9 C618.78,178.83 616.87,178.47 620,179.2 C623.13,179.93 629.03,180.88 633,182.3 C636.97,183.72 641.05,186.17 643.8,187.7 C646.55,189.23 648.05,190.45 649.5,191.5 C650.95,192.55 651.42,192.92 652.5,194 C653.58,195.08 654.93,196.57 656,198 C657.07,199.43 658.1,200.93 658.9,202.6 C659.7,204.27 660.27,205.92 660.8,208 C661.33,210.08 661.68,212.77 662.1,215.1 C662.52,217.43 662.93,219.38 663.3,222 C663.67,224.62 664.03,228.13 664.3,230.8 C664.57,233.47 664.75,235.9 664.9,238 C665.05,240.1 665.15,242.5 665.2,243.4" fill="none" stroke="#1a1a1a" stroke-width="1.4" stroke-linejoin="round" stroke-linecap="round" />
</g>
<rect x="561.4" y="146.6" width="111" height="104.6" fill="none" stroke="#262626" stroke-width="1"/>
<line x1="572.3" y1="251.2" x2="572.3" y2="247.7" stroke="#262626" stroke-width="1" />
<line x1="572.3" y1="146.6" x2="572.3" y2="150.1" stroke="#262626" stroke-width="1" />
<line x1="593.3" y1="251.2" x2="593.3" y2="247.7" stroke="#262626" stroke-width="1" />
<line x1="593.3" y1="146.6" x2="593.3" y2="150.1" stroke="#262626" stroke-width="1" />
<line x1="614.3" y1="251.2" x2="614.3" y2="247.7" stroke="#262626" stroke-width="1" />
<line x1="614.3" y1="146.6" x2="614.3" y2="150.1" stroke="#262626" stroke-width="1" />
<line x1="635.3" y1="251.2" x2="635.3" y2="247.7" stroke="#262626" stroke-width="1" />
<line x1="635.3" y1="146.6" x2="635.3" y2="150.1" stroke="#262626" stroke-width="1" />
<line x1="656.3" y1="251.2" x2="656.3" y2="247.7" stroke="#262626" stroke-width="1" />
<line x1="656.3" y1="146.6" x2="656.3" y2="150.1" stroke="#262626" stroke-width="1" />
<line x1="563.9" y1="251.2" x2="563.9" y2="249.2" stroke="#262626" stroke-width="1" />
<line x1="563.9" y1="146.6" x2="563.9" y2="148.6" stroke="#262626" stroke-width="1" />
<line x1="568.1" y1="251.2" x2="568.1" y2="249.2" stroke="#262626" stroke-width="1" />
<line x1="568.1" y1="146.6" x2="568.1" y2="148.6" stroke="#262626" stroke-width="1" />
<line x1="576.5" y1="251.2" x2="576.5" y2="249.2" stroke="#262626" stroke-width="1" />
<line x1="576.5" y1="146.6" x2="576.5" y2="148.6" stroke="#262626" stroke-width="1" />
<line x1="580.7" y1="251.2" x2="580.7" y2="249.2" stroke="#262626" stroke-width="1" />
<line x1="580.7" y1="146.6" x2="580.7" y2="148.6" stroke="#262626" stroke-width="1" />
<line x1="584.9" y1="251.2" x2="584.9" y2="249.2" stroke="#262626" stroke-width="1" />
<line x1="584.9" y1="146.6" x2="584.9" y2="148.6" stroke="#262626" stroke-width="1" />
<line x1="589.1" y1="251.2" x2="589.1" y2="249.2" stroke="#262626" stroke-width="1" />
<line x1="589.1" y1="146.6" x2="589.1" y2="148.6" stroke="#262626" stroke-width="1" />
<line x1="597.5" y1="251.2" x2="597.5" y2="249.2" stroke="#262626" stroke-width="1" />
<line x1="597.5" y1="146.6" x2="597.5" y2="148.6" stroke="#262626" stroke-width="1" />
<line x1="601.7" y1="251.2" x2="601.7" y2="249.2" stroke="#262626" stroke-width="1" />
<line x1="601.7" y1="146.6" x2="601.7" y2="148.6" stroke="#262626" stroke-width="1" />
<line x1="605.9" y1="251.2" x2="605.9" y2="249.2" stroke="#262626" stroke-width="1" />
<line x1="605.9" y1="146.6" x2="605.9" y2="148.6" stroke="#262626" stroke-width="1" />
<line x1="610.1" y1="251.2" x2="610.1" y2="249.2" stroke="#262626" stroke-width="1" />
<line x1="610.1" y1="146.6" x2="610.1" y2="148.6" stroke="#262626" stroke-width="1" />
<line x1="618.5" y1="251.2" x2="618.5" y2="249.2" stroke="#262626" stroke-width="1" />
<line x1="618.5" y1="146.6" x2="618.5" y2="148.6" stroke="#262626" stroke-width="1" />
<line x1="622.7" y1="251.2" x2="622.7" y2="249.2" stroke="#262626" stroke-width="1" />
<line x1="622.7" y1="146.6" x2="622.7" y2="148.6" stroke="#262626" stroke-width="1" />
<line x1="626.9" y1="251.2" x2="626.9" y2="249.2" stroke="#262626" stroke-width="1" />
<line x1="626.9" y1="146.6" x2="626.9" y2="148.6" stroke="#262626" stroke-width="1" />
<line x1="631.1" y1="251.2" x2="631.1" y2="249.2" stroke="#262626" stroke-width="1" />
<line x1="631.1" y1="146.6" x2="631.1" y2="148.6" stroke="#262626" stroke-width="1" />
<line x1="639.5" y1="251.2" x2="639.5" y2="249.2" stroke="#262626" stroke-width="1" />
<line x1="639.5" y1="146.6" x2="639.5" y2="148.6" stroke="#262626" stroke-width="1" />
<line x1="643.7" y1="251.2" x2="643.7" y2="249.2" stroke="#262626" stroke-width="1" />
<line x1="643.7" y1="146.6" x2="643.7" y2="148.6" stroke="#262626" stroke-width="1" />
<line x1="647.9" y1="251.2" x2="647.9" y2="249.2" stroke="#262626" stroke-width="1" />
<line x1="647.9" y1="146.6" x2="647.9" y2="148.6" stroke="#262626" stroke-width="1" />
<line x1="652.1" y1="251.2" x2="652.1" y2="249.2" stroke="#262626" stroke-width="1" />
<line x1="652.1" y1="146.6" x2="652.1" y2="148.6" stroke="#262626" stroke-width="1" />
<line x1="660.5" y1="251.2" x2="660.5" y2="249.2" stroke="#262626" stroke-width="1" />
<line x1="660.5" y1="146.6" x2="660.5" y2="148.6" stroke="#262626" stroke-width="1" />
<line x1="664.7" y1="251.2" x2="664.7" y2="249.2" stroke="#262626" stroke-width="1" />
<line x1="664.7" y1="146.6" x2="664.7" y2="148.6" stroke="#262626" stroke-width="1" />
<line x1="668.9" y1="251.2" x2="668.9" y2="249.2" stroke="#262626" stroke-width="1" />
<line x1="668.9" y1="146.6" x2="668.9" y2="148.6" stroke="#262626" stroke-width="1" />
<line x1="561.4" y1="198.9" x2="564.9" y2="198.9" stroke="#262626" stroke-width="1" />
<line x1="672.4" y1="198.9" x2="668.9" y2="198.9" stroke="#262626" stroke-width="1" />
<line x1="561.4" y1="235.46" x2="563.4" y2="235.46" stroke="#262626" stroke-width="1" />
<line x1="672.4" y1="235.46" x2="670.4" y2="235.46" stroke="#262626" stroke-width="1" />
<line x1="561.4" y1="226.25" x2="563.4" y2="226.25" stroke="#262626" stroke-width="1" />
<line x1="672.4" y1="226.25" x2="670.4" y2="226.25" stroke="#262626" stroke-width="1" />
<line x1="561.4" y1="219.71" x2="563.4" y2="219.71" stroke="#262626" stroke-width="1" />
<line x1="672.4" y1="219.71" x2="670.4" y2="219.71" stroke="#262626" stroke-width="1" />
<line x1="561.4" y1="214.64" x2="563.4" y2="214.64" stroke="#262626" stroke-width="1" />
<line x1="672.4" y1="214.64" x2="670.4" y2="214.64" stroke="#262626" stroke-width="1" />
<line x1="561.4" y1="210.5" x2="563.4" y2="210.5" stroke="#262626" stroke-width="1" />
<line x1="672.4" y1="210.5" x2="670.4" y2="210.5" stroke="#262626" stroke-width="1" />
<line x1="561.4" y1="207" x2="563.4" y2="207" stroke="#262626" stroke-width="1" />
<line x1="672.4" y1="207" x2="670.4" y2="207" stroke="#262626" stroke-width="1" />
<line x1="561.4" y1="203.97" x2="563.4" y2="203.97" stroke="#262626" stroke-width="1" />
<line x1="672.4" y1="203.97" x2="670.4" y2="203.97" stroke="#262626" stroke-width="1" />
<line x1="561.4" y1="201.29" x2="563.4" y2="201.29" stroke="#262626" stroke-width="1" />
<line x1="672.4" y1="201.29" x2="670.4" y2="201.29" stroke="#262626" stroke-width="1" />
<line x1="561.4" y1="183.16" x2="563.4" y2="183.16" stroke="#262626" stroke-width="1" />
<line x1="672.4" y1="183.16" x2="670.4" y2="183.16" stroke="#262626" stroke-width="1" />
<line x1="561.4" y1="173.95" x2="563.4" y2="173.95" stroke="#262626" stroke-width="1" />
<line x1="672.4" y1="173.95" x2="670.4" y2="173.95" stroke="#262626" stroke-width="1" />
<line x1="561.4" y1="167.41" x2="563.4" y2="167.41" stroke="#262626" stroke-width="1" />
<line x1="672.4" y1="167.41" x2="670.4" y2="167.41" stroke="#262626" stroke-width="1" />
<line x1="561.4" y1="162.34" x2="563.4" y2="162.34" stroke="#262626" stroke-width="1" />
<line x1="672.4" y1="162.34" x2="670.4" y2="162.34" stroke="#262626" stroke-width="1" />
<line x1="561.4" y1="158.2" x2="563.4" y2="158.2" stroke="#262626" stroke-width="1" />
<line x1="672.4" y1="158.2" x2="670.4" y2="158.2" stroke="#262626" stroke-width="1" />
<line x1="561.4" y1="154.7" x2="563.4" y2="154.7" stroke="#262626" stroke-width="1" />
<line x1="672.4" y1="154.7" x2="670.4" y2="154.7" stroke="#262626" stroke-width="1" />
<line x1="561.4" y1="151.67" x2="563.4" y2="151.67" stroke="#262626" stroke-width="1" />
<line x1="672.4" y1="151.67" x2="670.4" y2="151.67" stroke="#262626" stroke-width="1" />
<line x1="561.4" y1="148.99" x2="563.4" y2="148.99" stroke="#262626" stroke-width="1" />
<line x1="672.4" y1="148.99" x2="670.4" y2="148.99" stroke="#262626" stroke-width="1" />
<text x="572.3" y="261.6" text-anchor="middle" style='font-family:"Liberation Sans", sans-serif;font-size:8.6px;fill:#000;'>50</text>
<text x="593.3" y="261.6" text-anchor="middle" style='font-family:"Liberation Sans", sans-serif;font-size:8.6px;fill:#000;'>60</text>
<text x="614.3" y="261.6" text-anchor="middle" style='font-family:"Liberation Sans", sans-serif;font-size:8.6px;fill:#000;'>70</text>
<text x="635.3" y="261.6" text-anchor="middle" style='font-family:"Liberation Sans", sans-serif;font-size:8.6px;fill:#000;'>80</text>
<text x="656.3" y="261.6" text-anchor="middle" style='font-family:"Liberation Sans", sans-serif;font-size:8.6px;fill:#000;'>90</text>
<text x="616.6" y="275.4" text-anchor="middle" style='font-family:"Liberation Sans", sans-serif;font-size:8.4px;fill:#000;'>Magnetic field (Gauss)</text>
<text x="553.6" y="149.8" text-anchor="end" style='font-family:"Liberation Sans", sans-serif;font-size:8.4px;fill:#000;'>10</text>
<text x="553.9" y="145.1" style='font-family:"Liberation Sans", sans-serif;font-size:5.8px;fill:#000;'>7</text>
<text x="553.6" y="202.1" text-anchor="end" style='font-family:"Liberation Sans", sans-serif;font-size:8.4px;fill:#000;'>10</text>
<text x="553.9" y="197.4" style='font-family:"Liberation Sans", sans-serif;font-size:5.8px;fill:#000;'>6</text>
<text x="553.6" y="254.4" text-anchor="end" style='font-family:"Liberation Sans", sans-serif;font-size:8.4px;fill:#000;'>10</text>
<text x="553.9" y="249.7" style='font-family:"Liberation Sans", sans-serif;font-size:5.8px;fill:#000;'>5</text>
<text transform="translate(526.7,198.8) rotate(-90)" x="0" y="0" text-anchor="middle" style='font-family:"Liberation Sans", sans-serif;font-size:8.3px;fill:#000;'>Spinwave</text>
<text transform="translate(536.2,199.9) rotate(-90)" x="0" y="0" text-anchor="middle" style='font-family:"Liberation Sans", sans-serif;font-size:8.3px;fill:#000;'>wavevector (1/m)</text>
<rect x="572.2" y="191.6" width="56.6" height="28.4" fill="#fff" stroke="#222" stroke-width="0.8"/>
<line x1="574.6" y1="196.7" x2="584.7" y2="196.7" stroke="#555" stroke-width="1.5" />
<line x1="574.6" y1="209.4" x2="584.7" y2="209.4" stroke="#2030e0" stroke-width="1.5" />
<text x="587.1" y="198.4" text-anchor="start" style='font-family:"Liberation Sans", sans-serif;font-size:5.4px;fill:#111;'>Instability-driven</text>
<text x="587.1" y="204.8" text-anchor="start" style='font-family:"Liberation Sans", sans-serif;font-size:5.4px;fill:#111;'>spinwave</text>
<text x="587.1" y="211.1" text-anchor="start" style='font-family:"Liberation Sans", sans-serif;font-size:5.4px;fill:#111;'>NV-resonant</text>
<text x="587.1" y="217.4" text-anchor="start" style='font-family:"Liberation Sans", sans-serif;font-size:5.4px;fill:#111;'>spinwave</text>
<text x="584.6" y="240.8" style='font-family:"Liberation Sans", sans-serif;font-size:9.9px;fill:#000;'><tspan font-style="italic">f</tspan><tspan dy="2.4" style="font-size:7px">MW</tspan><tspan dy="-2.4"> = 2.2 GHz</tspan></text>
</svg>
</body></html>
